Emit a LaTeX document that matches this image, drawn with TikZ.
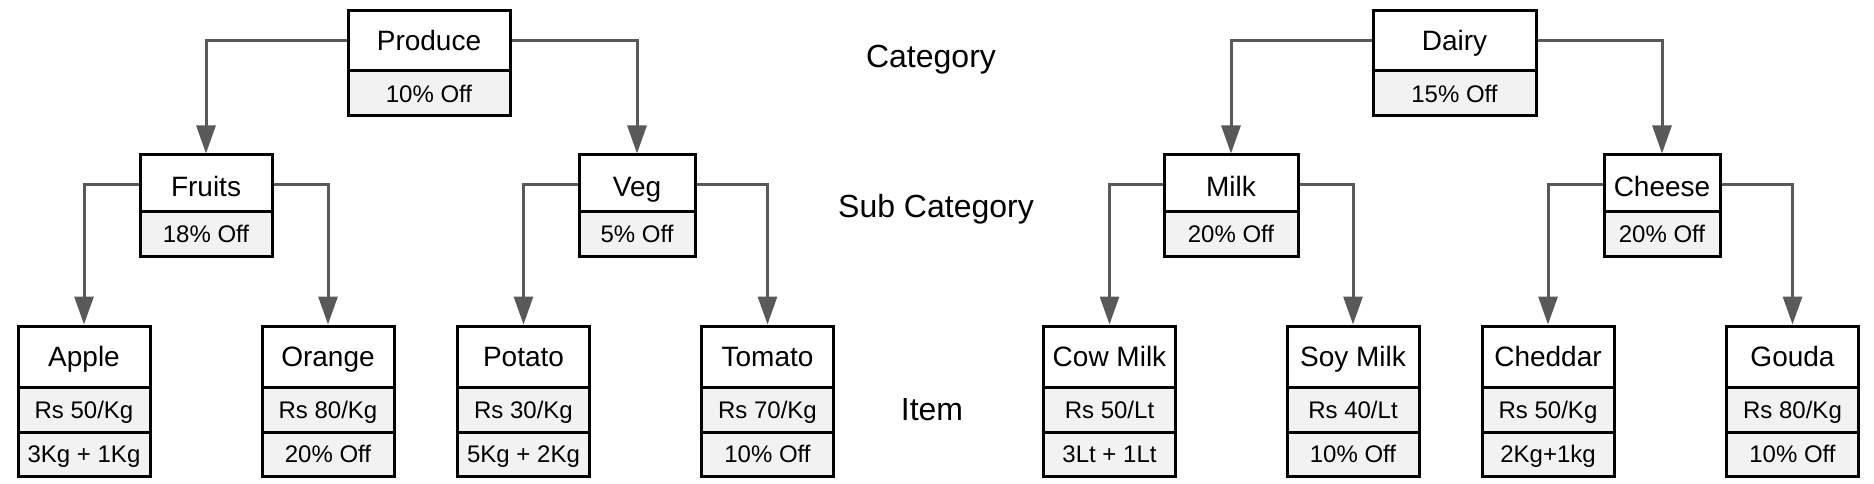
\documentclass[tikz,border=0pt]{standalone}
\usepackage{fontspec}
\setmainfont{Liberation Sans}
\usetikzlibrary{arrows.meta}
\definecolor{cellgray}{HTML}{F2F2F2}
\definecolor{linegray}{HTML}{595959}
\newcommand{\ItemBox}[5]{%
  \node[titlecell, minimum width=132pt, minimum height=61pt] (#1) at (#2,356.5) {#3};
  \node[subcell, minimum width=132pt, minimum height=45pt] (#1p) at (#2,409.5) {#4};
  \node[subcell, minimum width=132pt, minimum height=44pt] (#1o) at (#2,454) {#5};}
\newcommand{\SubBox}[5]{%
  \node[titlecell, text height=26pt, minimum width=#3, minimum height=56pt] (#1) at (#2,183) {#4};
  \node[subcell, minimum width=#3, minimum height=45pt] (#1o) at (#2,233.5) {#5};}
\newcommand{\TopBox}[5]{%
  \node[titlecell, minimum width=#3, minimum height=60pt] (#1) at (#2,41) {#4};
  \node[subcell, minimum width=#3, minimum height=45pt] (#1o) at (#2,93.5) {#5};}
\begin{document}
\begin{tikzpicture}[x=1pt,y=-1pt,
  cellbase/.style={draw=black, line width=3pt, inner sep=0pt, align=center, text=black, text depth=0pt},
  titlecell/.style={cellbase, fill=white, font=\fontsize{28}{32}\selectfont, text height=20pt},
  subcell/.style={cellbase, fill=cellgray, font=\fontsize{24}{28}\selectfont, text height=17.2pt},
  conn/.style={draw=linegray, line width=3pt, -{Triangle[width=19pt,length=28pt]}},
  lvl/.style={font=\fontsize{32}{36}\selectfont, anchor=base, inner sep=0pt}]
\useasboundingbox (0,0) rectangle (1874,484);

% top level
\TopBox{produce}{429}{162pt}{Produce}{10\% Off}
\TopBox{dairy}{1454.5}{163pt}{Dairy}{15\% Off}

% sub level
\SubBox{fruits}{206}{132pt}{Fruits}{18\% Off}
\SubBox{veg}{637}{116pt}{Veg}{5\% Off}
\SubBox{milk}{1231}{134pt}{Milk}{20\% Off}
\SubBox{cheese}{1662}{116pt}{Cheese}{20\% Off}

% items
\ItemBox{apple}{84}{Apple}{Rs 50/Kg}{3Kg + 1Kg}
\ItemBox{orange}{328}{Orange}{Rs 80/Kg}{20\% Off}
\ItemBox{potato}{523.5}{Potato}{Rs 30/Kg}{5Kg + 2Kg}
\ItemBox{tomato}{767.5}{Tomato}{Rs 70/Kg}{10\% Off}
\ItemBox{cowmilk}{1109.5}{Cow Milk}{Rs 50/Lt}{3Lt + 1Lt}
\ItemBox{soymilk}{1353}{Soy Milk}{Rs 40/Lt}{10\% Off}
\ItemBox{cheddar}{1548}{Cheddar}{Rs 50/Kg}{2Kg+1kg}
\ItemBox{gouda}{1792.5}{Gouda}{Rs 80/Kg}{10\% Off}

% connectors
\draw[conn] (produce.west) -| (fruits.north);
\draw[conn] (produce.east) -| (veg.north);
\draw[conn] (dairy.west) -| (milk.north);
\draw[conn] (dairy.east) -| (cheese.north);
\draw[conn] ([yshift=-1.8pt]fruits.west) -| (apple.north);
\draw[conn] ([yshift=-1.8pt]fruits.east) -| (orange.north);
\draw[conn] ([yshift=-1.8pt]veg.west) -| (potato.north);
\draw[conn] ([yshift=-1.8pt]veg.east) -| (tomato.north);
\draw[conn] ([yshift=-1.8pt]milk.west) -| (cowmilk.north);
\draw[conn] ([yshift=-1.8pt]milk.east) -| (soymilk.north);
\draw[conn] ([yshift=-1.8pt]cheese.west) -| (cheddar.north);
\draw[conn] ([yshift=-1.8pt]cheese.east) -| (gouda.north);

% level labels
\node[lvl] (lcat) at (931,68) {Category};
\node[lvl] (lsub) at (936,217) {Sub Category};
\node[lvl] (litem) at (932,420) {Item};
\end{tikzpicture}
\end{document}
